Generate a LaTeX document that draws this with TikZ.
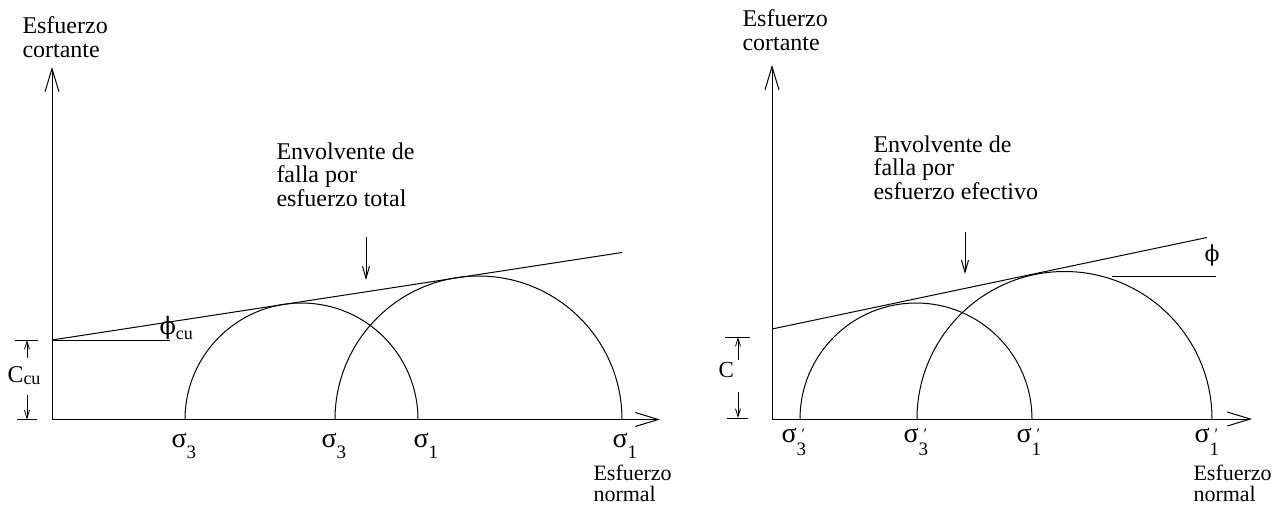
\documentclass[tikz,border=0pt]{standalone}
\usepackage{fontspec}
\setmainfont{Liberation Serif}
\newfontfamily\phifont{DejaVu Serif}
\usetikzlibrary{arrows.meta}
\newcommand\mylines[1]{\begin{tabular}[t]{@{}l@{}}#1\end{tabular}}
\newcommand\sigl[1]{σ\raisebox{-11pt}{\fontsize{19}{19}\selectfont #1}}
\newcommand\sigp[1]{σ\rlap{\hspace{5pt}\raisebox{3pt}{\fontsize{16}{16}\selectfont ′}}\raisebox{-13pt}{\fontsize{19}{19}\selectfont #1}}
\begin{document}
\begin{tikzpicture}[x=1pt,y=-1pt,line width=1pt,
  axisarrow/.style={-{Straight Barb[length=23pt,width=14pt]}},
  dimarrow/.style={-{Straight Barb[length=8pt,width=5pt]}},
  envarrow/.style={-{Straight Barb[length=12pt,width=7pt]}},
  txt/.style={inner sep=0pt,anchor=base west,font=\fontsize{24}{24}\selectfont},
  btxt/.style={inner sep=0pt,anchor=base west,font=\fontsize{22}{20}\selectfont},
  etxt/.style={inner sep=0pt,anchor=base west,font=\fontsize{24}{23}\selectfont},
  sig/.style={inner sep=0pt,anchor=base west,font=\fontsize{28}{28}\selectfont},
  tick/.style={line width=1pt}]
\useasboundingbox (0,0) rectangle (1285,504);

% ================= LEFT DIAGRAM =================
\coordinate (O1) at (52,419.5);
\coordinate (Y1) at (52,67);
\coordinate (X1) at (660,419.5);
\draw[axisarrow] (O1) -- (Y1);
\draw[axisarrow] (O1) -- (X1);

\node[txt] (ylab1) at (22,33) {\mylines{Esfuerzo\\cortante}};
\node[btxt] (xlab1) at (593,480) {\mylines{Esfuerzo\\normal}};

% circles
\coordinate (L3a) at (185,419.5);
\coordinate (L1a) at (418,419.5);
\coordinate (L3b) at (335,419.5);
\coordinate (L1b) at (622,419.5);
\draw (L3a) arc[start angle=180,end angle=0,radius=116.5pt];
\draw (L3b) arc[start angle=180,end angle=0,radius=143.5pt];

% envelope
\coordinate (E1a) at (52,340);
\coordinate (E1b) at (622,252.5);
\draw (E1a) -- (E1b);
\coordinate (H1) at (170,340);
\draw[tick] (E1a) -- (H1);
\node[inner sep=0pt,anchor=base west,font=\fontsize{24}{24}\selectfont] (phicu) at (159,334) {{\phifont ϕ}\raisebox{-5pt}{\fontsize{18}{18}\selectfont cu}};

% C_cu dimension
\coordinate (T1a) at (15,340);
\coordinate (T1b) at (38,340);
\coordinate (T1c) at (17,419.5);
\coordinate (T1d) at (37,419.5);
\draw[tick] (T1a) -- (T1b);
\draw[tick] (T1c) -- (T1d);
\node[inner sep=0pt,anchor=base west,font=\fontsize{24}{24}\selectfont] (ccu) at (7,382) {C\raisebox{-2pt}{\fontsize{18}{18}\selectfont cu}};
\coordinate (A1s) at (27,358);
\coordinate (A1e) at (27,340);
\coordinate (A1t) at (27,395);
\coordinate (A1f) at (27,419.5);
\draw[dimarrow,line width=0.8pt] (A1s) -- (A1e);
\draw[dimarrow,line width=0.8pt] (A1t) -- (A1f);

% envelope label
\node[etxt] (env1) at (276,159) {\mylines{Envolvente de\\falla por\\esfuerzo total}};
\coordinate (V1s) at (366,237);
\coordinate (V1e) at (366,280);
\draw[envarrow] (V1s) -- (V1e);

% sigma labels
\node[sig] (s3a) at (171,447) {\sigl{3}};
\node[sig] (s3b) at (321,447) {\sigl{3}};
\node[sig] (s1a) at (413,447) {\sigl{1}};
\node[sig] (s1b) at (612,447) {\sigl{1}};

% ================= RIGHT DIAGRAM =================
\coordinate (O2) at (772,419);
\coordinate (Y2) at (772,65);
\coordinate (X2) at (1252,419);
\draw[axisarrow] (O2) -- (Y2);
\draw[axisarrow] (O2) -- (X2);

\node[txt] (ylab2) at (742,26) {\mylines{Esfuerzo\\cortante}};
\node[btxt] (xlab2) at (1193,480) {\mylines{Esfuerzo\\normal}};

% circles
\coordinate (R3a) at (800,419);
\coordinate (R1a) at (1032,419);
\coordinate (R3b) at (917,419);
\coordinate (R1b) at (1212,419);
\draw (R3a) arc[start angle=180,end angle=0,radius=116pt];
\draw (R3b) arc[start angle=180,end angle=0,radius=147.5pt];

% envelope
\coordinate (E2a) at (772,329);
\coordinate (E2b) at (1207,237.5);
\draw (E2a) -- (E2b);
\coordinate (H2a) at (1112,276);
\coordinate (H2b) at (1216,276);
\draw[tick] (H2a) -- (H2b);
\node[inner sep=0pt,anchor=base west,font=\fontsize{22}{22}\selectfont] (phi) at (1204,261) {{\phifont ϕ}};

% C dimension
\coordinate (T2a) at (725,337);
\coordinate (T2b) at (750,337);
\coordinate (T2c) at (727,418);
\coordinate (T2d) at (748,418);
\draw[tick] (T2a) -- (T2b);
\draw[tick] (T2c) -- (T2d);
\node[inner sep=0pt,anchor=base west,font=\fontsize{23}{23}\selectfont] (c) at (718,377) {C};
\coordinate (A2s) at (738,360);
\coordinate (A2e) at (738,337);
\coordinate (A2t) at (738,392);
\coordinate (A2f) at (738,418);
\draw[dimarrow,line width=0.8pt] (A2s) -- (A2e);
\draw[dimarrow,line width=0.8pt] (A2t) -- (A2f);

% envelope label
\node[etxt] (env2) at (873,152) {\mylines{Envolvente de\\falla por\\esfuerzo efectivo}};
\coordinate (V2s) at (965,232);
\coordinate (V2e) at (965,274);
\draw[envarrow] (V2s) -- (V2e);

% sigma' labels
\node[sig] (p3a) at (781,442) {\sigp{3}};
\node[sig] (p3b) at (903,442) {\sigp{3}};
\node[sig] (p1a) at (1016,442) {\sigp{1}};
\node[sig] (p1b) at (1194,442) {\sigp{1}};
\end{tikzpicture}
\end{document}
